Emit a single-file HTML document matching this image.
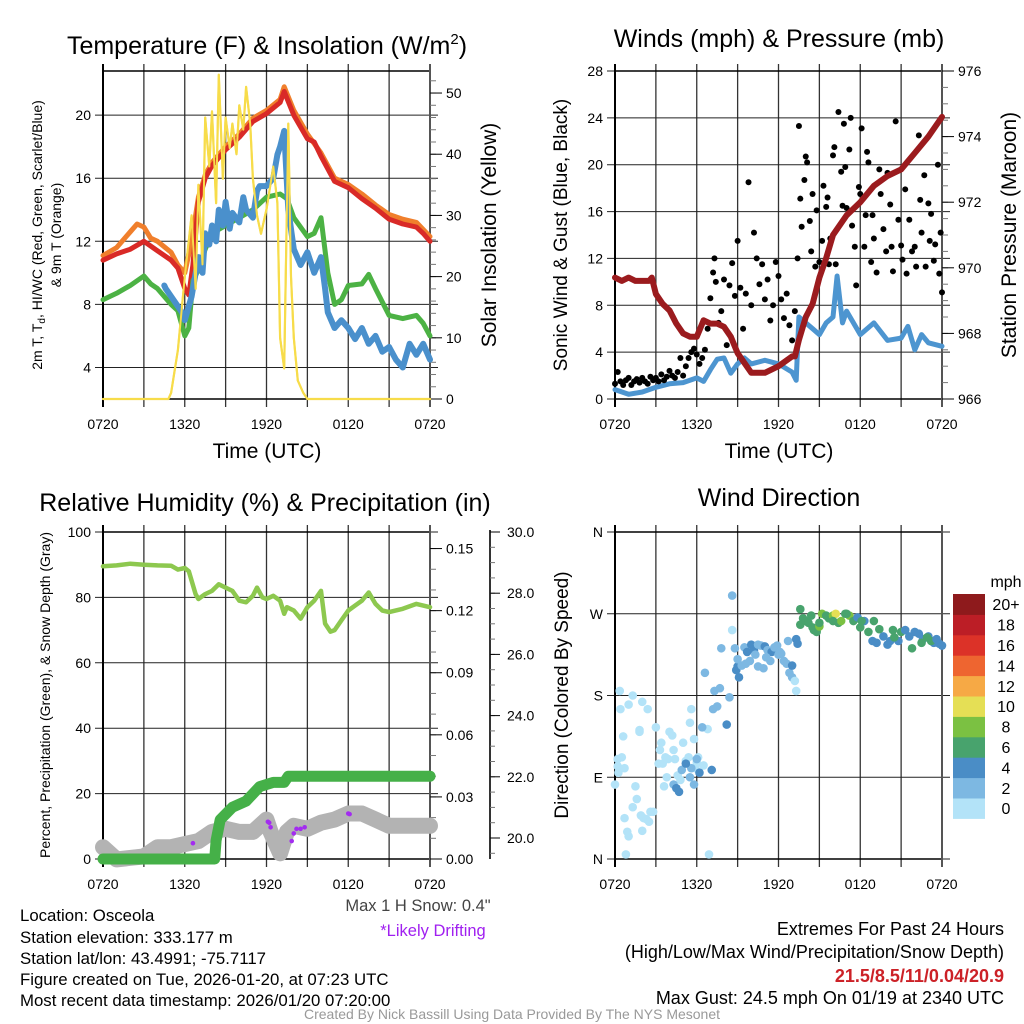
<!DOCTYPE html>
<html><head><meta charset="utf-8"><style>
html,body{margin:0;padding:0;background:#fff;width:1024px;height:1024px;overflow:hidden}
svg{display:block;font-family:"Liberation Sans",sans-serif}
</style></head><body>
<svg id="fig" width="1024" height="1024" viewBox="0 0 1024 1024">
<rect x="0" y="0" width="1024" height="1024" fill="#fff"/>
<text x="267" y="54" font-size="25" text-anchor="middle">Temperature (F) &amp; Insolation (W/m<tspan font-size="15" dy="-10">2</tspan><tspan dy="10">)</tspan></text>
<text x="779" y="47" font-size="25" text-anchor="middle">Winds (mph) &amp; Pressure (mb)</text>
<text x="265" y="511" font-size="25" text-anchor="middle">Relative Humidity (%) &amp; Precipitation (in)</text>
<text x="779" y="506" font-size="25" text-anchor="middle">Wind Direction</text>
<text x="267" y="458" font-size="21" text-anchor="middle">Time (UTC)</text>
<text x="779" y="458" font-size="21" text-anchor="middle">Time (UTC)</text>
<g transform="translate(42,235) rotate(-90)"><text x="0" y="0" font-size="14" text-anchor="middle">2m T, T<tspan font-size="10" dy="3">d</tspan><tspan dy="-3">, HI/WC (Red, Green, Scarlet/Blue)</tspan></text></g>
<text transform="translate(61,235) rotate(-90)" font-size="14" text-anchor="middle">&amp; 9m T (Orange)</text>
<text transform="translate(496,235) rotate(-90)" font-size="21" text-anchor="middle">Solar Insolation (Yellow)</text>
<text transform="translate(567,235) rotate(-90)" font-size="19" text-anchor="middle">Sonic Wind &amp; Gust (Blue, Black)</text>
<text transform="translate(1016,235) rotate(-90)" font-size="21" text-anchor="middle">Station Pressure (Maroon)</text>
<text transform="translate(50,695) rotate(-90)" font-size="14" text-anchor="middle">Percent, Precipitation (Green), &amp; Snow Depth (Gray)</text>
<text transform="translate(568,695) rotate(-90)" font-size="19" text-anchor="middle">Direction (Colored By Speed)</text>
<text x="418" y="911" font-size="16.5" fill="#444" text-anchor="middle">Max 1 H Snow: 0.4"</text>
<text x="433" y="936" font-size="16.5" fill="#a020f0" text-anchor="middle">*Likely Drifting</text>
<g font-size="16.8">
<text x="20" y="921">Location: Osceola</text>
<text x="20" y="943">Station elevation: 333.177 m</text>
<text x="20" y="964">Station lat/lon: 43.4991; -75.7117</text>
<text x="20" y="985">Figure created on Tue, 2026-01-20, at 07:23 UTC</text>
<text x="20" y="1006">Most recent data timestamp: 2026/01/20 07:20:00</text>
</g>
<g font-size="18" text-anchor="end">
<text x="1004" y="935">Extremes For Past 24 Hours</text>
<text x="1004" y="958">(High/Low/Max Wind/Precipitation/Snow Depth)</text>
<text x="1004" y="982" fill="#cc2127" font-weight="bold">21.5/8.5/11/0.04/20.9</text>
<text x="1004" y="1004">Max Gust: 24.5 mph On 01/19 at 2340 UTC</text>
</g>
<text x="512" y="1019" font-size="14" fill="#999" text-anchor="middle">Created By Nick Bassill Using Data Provided By The NYS Mesonet</text>
<text x="1006" y="587" font-size="16" text-anchor="middle">mph</text>
<g id="layer"></g>
</svg>
<script>
// ---- Temperature panel data (hours since 0720 UTC) ----
const tT=[0,1,2,3,4,5,5.5,6,6.3,6.6,7,7.5,8,9,10,11,12,13,13.3,14,15,15.5,16,17,18,19,20,21,22,23,23.5,24];
const tempVals=[10.8,11.2,11.5,12.0,11.4,10.8,10.3,9.0,8.6,10.5,14.5,16.0,16.8,17.8,18.6,19.6,20.1,20.8,21.5,20.0,18.5,18.3,17.4,15.8,15.4,14.7,14.1,13.4,13.1,12.9,12.5,12.0];
const t9Times=[0,1,2,2.5,3,3.5,4,5,5.5,6,6.5,7,7.5,8,9,10,11,12,13,13.3,14,15,16,17,18,19,20,21,22,23,24];
const temp9Vals=[11.1,11.6,12.6,13.1,12.9,12.2,12.0,11.3,10.5,10.0,12.0,14.8,16.2,17.0,18.0,18.8,19.8,20.3,21.0,21.8,20.3,18.8,17.6,16.0,15.6,15.0,14.3,13.7,13.4,13.2,12.3];
const tdTimes=[0,1,2,3,3.5,4,5,5.5,6,6.3,6.6,7,7.5,8,9,10,11,12,13,13.5,14,15,15.5,16,16.5,17,17.5,18,19,19.5,20,21,22,23,23.5,24];
const tdVals=[8.3,8.7,9.2,9.8,9.3,9.0,8.0,7.6,6.0,6.5,9.5,10.2,11.5,12.5,13.0,13.5,14.0,14.8,15.0,14.7,13.5,12.3,12.5,13.5,10.0,8.0,8.3,9.2,9.3,9.9,9.0,7.3,7.1,7.3,6.8,6.0];
const wcTimes=[4.5,4.6,5.8,6,6.5,7,7.3,7.5,7.8,8,8.3,8.5,8.8,9,9.3,9.5,10,10.3,10.5,11,11.3,11.5,12,12.5,12.8,13,13.3,13.6,14,14.5,15,15.5,16,16.3,16.5,17,17.5,18,18.5,19,19.5,20,20.5,21,21.5,22,22.5,23,23.5,24];
const wcVals=[9.2,9.0,7.5,7.0,8.5,11.0,10.0,12.5,11.8,13.0,12.0,14.0,13.0,14.5,12.8,13.8,13.2,14.8,14.0,13.5,15.2,15.5,15.5,16.0,17.5,18.0,19.0,14.0,11.5,10.5,11.3,10.0,11.0,9.0,7.5,6.5,7.0,6.5,5.8,6.5,5.5,6.0,5.0,5.3,4.5,4.0,5.5,4.8,5.5,4.5];
const solTimes=[0,4.8,5,5.5,6,6.5,6.8,7,7.3,7.5,7.8,8,8.3,8.5,8.8,9,9.3,9.5,9.8,10,10.3,10.5,10.8,11,11.3,11.6,12,12.5,12.8,13,13.3,13.6,13.8,14,14.3,14.7,15,24];
const solVals=[0,0,1,8,20,30,18,35,22,46,38,47,32,53,36,46,41,45,40,48,44,51,45,36,30,27,31,38,32,10,5,45,20,10,3,1,0,0];
const tempTicks=[4,8,12,16,20];
const solTicks=[0,10,20,30,40,50];
// ---- Winds panel ----
const windTimes=[0,1,2,3,4,5,6,6.5,7,7.5,8,8.5,9,9.5,10,11,12,13,13.3,13.5,14,14.5,15,15.5,16,16.3,16.7,17,18,19,20,21,21.5,22,22.5,23,24];
const windVals=[0.8,0.4,0.6,1.0,1.3,1.4,1.8,1.5,2.5,3.4,3.5,2.2,3.0,3.5,3.0,3.3,3.0,2.3,1.6,7.0,6.5,6.0,5.5,6.5,7.0,10.5,6.5,7.5,5.5,6.5,5.0,5.2,6.2,4.2,5.5,4.8,4.5];
const gustTimes=[0,0.2,0.4,0.6,0.8,1,1.2,1.4,1.6,1.8,2,2.2,2.4,2.6,2.8,3,3.2,3.4,3.6,3.8,4,4.2,4.4,4.6,4.8,5,5.2,5.4,5.6,5.8,6,6.2,6.4,6.6,6.8,7,7.2,7.3,7.4,7.6,7.8,8,8.2,8.4,8.6,8.8,9,9.2,9.4,9.6,9.8,10,10.2,10.4,10.6,10.8,11,11.2,11.4,11.6,11.8,12,12.2,12.4,12.6,12.8,13,13.2,13.4,13.5,13.6,13.7,13.9,14,14.1,14.3,14.4,14.5,14.7,14.8,15,15.2,15.3,15.5,15.6,15.7,15.8,16,16.1,16.2,16.4,16.6,16.7,16.8,16.9,17,17.2,17.3,17.4,17.6,17.7,17.9,18,18.1,18.3,18.4,18.5,18.6,18.8,18.9,19,19.2,19.4,19.5,19.7,19.9,20,20.2,20.3,20.4,20.6,20.8,21,21.1,21.3,21.4,21.6,21.8,22,22.1,22.3,22.4,22.5,22.7,22.8,23,23.1,23.2,23.4,23.5,23.7,23.8,23.9,24];
const gustVals=[1.3,2.3,1.5,1.2,1.6,1.8,1.2,1.5,1.7,1.4,1.8,1.5,1.3,1.9,1.6,1.8,1.5,2.1,1.6,1.9,2.4,2.0,1.8,2.3,3.5,2.0,2.8,3.5,4.0,4.3,3.8,3.0,3.5,4.2,6.0,8.6,10.8,12.0,10.0,6.5,7.5,10.2,4.6,9.7,11.6,8.8,13.5,9.5,6.0,9.0,18.5,8.0,14.2,12.0,9.8,11.5,8.5,10.2,6.7,8.0,11.7,10.5,8.5,6.9,9.0,6.3,5.0,7.5,12.0,23.3,17.1,14.7,18.7,20.7,20.2,15.2,12.6,17.5,11.3,16.1,11.7,13.5,18.2,16.4,17.2,11.5,13.7,20.8,21.5,11.5,24.5,19.4,16.5,23.5,19.8,16.3,21.3,24.0,14.8,13.0,9.7,18.1,17.5,23.1,13.0,15.7,21.1,20.2,11.7,15.7,13.7,10.8,19.6,17.5,14.5,12.6,19.3,16.6,13.0,10.9,23.7,15.3,13.1,11.9,17.9,10.7,15.3,12.6,13.0,11.3,22.5,17.0,14.2,19.1,11.3,16.7,13.5,15.8,11.8,13.2,20.0,10.7,14.2,9.1];
const presTimes=[0,0.5,1,1.5,2.5,2.7,3,3.5,4,4.5,5,5.5,6,6.5,7,7.5,8,8.5,9,10,10.5,11,12,13,13.2,13.5,14,14.5,15,15.5,16,17,18,19,20,21,22,23,24];
const presVals=[969.7,969.6,969.7,969.6,969.6,969.7,969.2,968.9,968.7,968.3,968.0,967.9,967.9,968.4,968.3,968.3,968.2,967.9,967.4,966.8,966.8,966.8,967.0,967.3,967.3,967.8,968.5,968.9,969.7,970.3,971.0,971.6,972.0,972.5,972.8,973.0,973.5,974.0,974.6];
const windTicks=[0,4,8,12,16,20,24,28];
const presTicks=[966,968,970,972,974,976];
// ---- Humidity panel ----
const rhTimes=[0,1,2,3,4,5,5.5,6,6.3,6.8,7,7.5,8,8.5,9,9.5,10,10.5,11,11.3,11.7,12,12.5,13,13.3,13.5,14,14.5,15,15.5,16,16.3,16.7,17,17.5,18,18.5,19,19.5,20,20.5,21,22,23,24];
const rhVals=[89.5,89.8,90.3,90.0,89.8,89.7,88.5,89.0,88.0,81.0,79.5,81.0,82.0,84.0,83.0,82.0,79.0,78.5,80.5,83.0,80.0,79.5,80.5,79.0,75.0,77.0,76.0,73.5,77.0,79.0,82.0,72.0,69.5,70.0,73.0,76.0,77.5,79.0,81.5,78.0,76.0,75.5,76.5,78.0,77.0];
const precipTimes=[0,8.2,8.3,8.6,9.5,10.5,11.5,12.5,13.3,13.6,24];
const precipVals=[0,0,0.009,0.019,0.025,0.028,0.035,0.037,0.037,0.040,0.040];
const snowTimes=[0,1,3,4,5,6,7,8,9,10,11,12,12.3,13,13.5,14,15,16,17,18,19,20,21,22,24];
const snowVals=[19.7,19.3,19.4,19.7,19.7,19.8,19.9,20.2,20.3,20.2,20.2,20.6,20.2,19.5,20.2,20.4,20.3,20.5,20.6,20.8,20.8,20.6,20.4,20.4,20.4];
const driftTimes=[6.6,12.1,12.2,12.3,13.85,14.0,14.2,14.5,14.8,18.0,18.1];
const driftVals=[19.83,20.53,20.5,20.35,19.9,20.15,20.3,20.3,20.35,20.8,20.78];
const rhTicks=[0,20,40,60,80,100];
const precipTicks=[0,0.03,0.06,0.09,0.12,0.15];
const snowTicks=[20,22,24,26,28,30];
// ---- Wind direction panel ----
const dirTimes=[0.0,0.2,0.25,0.4,0.35,0.2,0.5,0.6,0.7,0.7,0.8,0.9,1.0,1.0,1.3,1.3,1.5,1.6,1.8,1.8,1.9,2.0,2.0,2.1,2.3,2.4,2.5,2.6,2.8,3.0,3.2,3.3,3.4,3.5,3.6,3.7,3.8,3.9,4.0,4.2,4.3,4.4,4.6,4.8,5.0,5.2,5.4,5.5,5.6,5.8,5.9,6.0,6.1,6.5,6.8,6.9,4.9,4.3,5.5,5.8,6.4,6.0,5.6,4.7,5.2,6.2,4.5,7.1,6.6,7.3,7.2,7.5,7.7,8.2,7.8,8.8,8.4,9.1,8.9,9.0,9.0,9.3,9.5,9.7,10.0,10.2,10.5,10.7,11.0,11.2,11.5,11.7,11.9,12.0,12.2,12.4,12.6,12.8,13.0,13.2,13.3,13.0,12.7,13.3,13.4,8.6,8.6,10.5,10.9,9.9,11.1,10.3,9.6,11.4,12.1,13.6,13.8,14.0,14.2,14.4,14.5,14.6,14.8,15.0,15.2,15.5,15.7,16.0,16.2,16.4,16.6,16.9,17.2,17.5,17.8,18.0,18.3,18.6,18.9,19.2,19.4,19.7,20.0,20.2,20.4,20.8,21.0,21.3,21.6,22.0,22.3,22.6,23.0,23.4,23.8,24.0,13.6,15.0,16.0,20.5,21.8,22.5,23.2,19.0,18.1,17.0,23.6,22.9];
const dirVals=[82,110,95,165,185,102,112,135,100,45,5,30,25,170,180,57,80,66,142,140,48,173,31,45,44,165,41,52,52,145,105,120,128,105,80,112,90,110,140,136,120,110,92,87,128,108,112,150,165,132,100,106,112,103,143,5,98,82,90,82,145,110,100,74,105,95,78,98,205,185,165,168,188,148,232,232,178,200,208,212,220,213,233,228,236,230,236,235,234,230,228,233,235,225,226,218,215,205,200,196,185,213,240,242,237,290,252,212,210,218,222,225,215,218,228,258,265,262,260,268,255,252,250,256,270,268,265,268,270,260,262,270,268,262,266,255,262,250,240,238,253,245,236,240,252,240,250,252,245,250,248,242,245,238,237,235,275,260,262,244,232,238,240,262,262,270,242,244];
const dirSpeeds=[1,1,1,1,1,1,1,1,1,1,1,1,1,1,1,1,1,1,1,1,1,1,1,1,1,1,1,1,1,1,1,1,1,1,1,1,1,1,1,1,1,1,1,1,1,1,1,1,1,1,1,1,1,1,1,1,3,3,3,3,3,3,3,5,5,5,5,5,3,3,3,3,3,5,3,3,3,5,5,5,3,3,3,5,5,5,3,3,5,3,5,3,3,3,3,3,3,3,3,1,1,5,3,5,5,3,1,3,3,3,3,3,3,3,3,7,7,7,7,7,7,7,7,9,9,7,7,9,11,7,9,7,9,7,5,7,5,7,5,5,7,5,5,5,7,5,7,5,5,5,5,5,5,5,5,5,7,7,7,7,7,7,7,7,7,7,5,7];
const speedBins=[0,2,4,6,8,10,12,14,16,18,20];
const binLabels=["0","2","4","6","8","10","12","14","16","18","20+"];
const binColors=["#b3e3f8","#7db8e2","#4a8dc6","#48a36d","#7bc142","#e5df55","#f6a945","#ee6530","#dc3228","#bc1e26","#8e1a1c"];
const dirTicks=[0,90,180,270,360];
const dirLabels=["N","E","S","W","N"];
const timeLabels=["0720","1320","1920","0120","0720"];
const timeTickHours=[0,6,12,18,24];

const NS="http://www.w3.org/2000/svg";
const layer=document.getElementById("layer");
function mk(tag,attrs,parent){const e=document.createElementNS(NS,tag);for(const k in attrs)e.setAttribute(k,attrs[k]);(parent||layer).appendChild(e);return e;}
function lin(d0,d1,r0,r1){return v=>r0+(v-d0)*(r1-r0)/(d1-d0);}
function pathD(xs,ys,sx,sy){return xs.map((t,i)=>(i?"L":"M")+sx(t).toFixed(1)+" "+sy(ys[i]).toFixed(1)).join(" ");}

const panels={
 tl:{x0:103,x1:430,y0:71,y1:399},
 tr:{x0:615,x1:942,y0:71,y1:399},
 bl:{x0:103,x1:430,y0:532,y1:859},
 br:{x0:615,x1:942,y0:532,y1:859}
};
function frame(p,key,hTicks,sy,labels,labelFmt){
 const g=mk("g",{});
 
 
 const sx=lin(0,24,p.x0,p.x1);
 for(let h=3;h<24;h+=3){const l=mk("line",{x1:sx(h),x2:sx(h),y1:p.y0-7,y2:p.y1+8,stroke:"#333","stroke-width":1.3},g);
  
  }
 hTicks.forEach((v,i)=>{const y=sy(v);const l=mk("line",{x1:p.x0-8,x2:p.x1+8,y1:y,y2:y,stroke:"#222","stroke-width":1},g);
  
  
  const t=mk("text",{x:p.x0-12,y:y+5,"font-size":14,"text-anchor":"end"},g);t.textContent=labels?labels[i]:labelFmt(v);
  
  });
 mk("rect",{x:p.x0,y:p.y0,width:p.x1-p.x0,height:p.y1-p.y0,fill:"none",stroke:"#000","stroke-width":1.5},g);
 mk("line",{x1:p.x0,x2:p.x0,y1:p.y0-7,y2:p.y1+8,stroke:"#000","stroke-width":2},g);
 mk("line",{x1:p.x1,x2:p.x1,y1:p.y0-7,y2:p.y1+8,stroke:"#555","stroke-width":2},g);
 timeTickHours.forEach((h,i)=>{const t=mk("text",{x:sx(h),y:p.y1+30,"font-size":14,"text-anchor":"middle"},g);t.textContent=timeLabels[i];
  
  });
 return sx;
}
function rightAxis(p,ticks,sy,fmt,x,minorStep,lo,hi){
 const g=mk("g",{});
 
 
 if(minorStep){for(let v=lo;v<=hi+1e-9;v+=minorStep){const y=sy(v);if(y<p.y0-1||y>p.y1+1)continue;mk("line",{x1:x,x2:x+6,y1:y,y2:y,stroke:"#777","stroke-width":1},g);}}
 ticks.forEach(v=>{const y=sy(v);mk("line",{x1:x,x2:x+12,y1:y,y2:y,stroke:"#000","stroke-width":1},g);
  const t=mk("text",{x:x+16,y:y+5,"font-size":14},g);t.textContent=fmt(v);
  
  });
}
function line(xs,ys,sx,sy,color,w){const e=mk("path",{d:pathD(xs,ys,sx,sy),fill:"none",stroke:color,"stroke-width":w,"stroke-linejoin":"round","stroke-linecap":"round"});
 return e;}

// ---- TL ----
{const p=panels.tl;const sy=lin(2,22.8,p.y1,p.y0);const sr=lin(0,53.6,p.y1,p.y0);
 const sx=frame(p,'temperature',tempTicks,sy,null,v=>String(v));
 rightAxis(p,solTicks,sr,v=>String(v),p.x1,2,0,52);
 const y=line(solTimes,solVals,sx,sr,"#f7dc4a",2.2);
 
 
 const o=line(t9Times,temp9Vals,sx,sy,"#f07f2c",5);
 
 
 const r=line(tT,tempVals,sx,sy,"#d92a27",5);
 
 
 const gr=line(tdTimes,tdVals,sx,sy,"#4cb244",5);
 
 
 const b=line(wcTimes,wcVals,sx,sy,"#4a90cc",6);
 
 
 const y2=line(solTimes,solVals,sx,sr,"#f7dc4a",2);
 
 
}
// ---- TR ----
{const p=panels.tr;const sy=lin(0,28,p.y1,p.y0);const sp=lin(966,976,p.y1,p.y0);
 const sx=frame(p,'winds',windTicks,sy,null,v=>String(v));
 rightAxis(p,presTicks,sp,v=>String(v),p.x1,0.5,966,976);
 const w=line(windTimes,windVals,sx,sy,"#4d95d0",5);
 
 
 gustTimes.forEach((t,i)=>{const c=mk("circle",{cx:sx(t),cy:sy(gustVals[i]),r:3,fill:"#000"});
  
  });
 const pr=line(presTimes,presVals,sx,sp,"#9b1b1e",6);
 
 
}
// ---- BL ----
{const p=panels.bl;const sy=lin(0,100,p.y1,p.y0);const spc=lin(0,0.158,p.y1,p.y0);const ssn=lin(20,30,838,532);
 const sx=frame(p,'humidity',rhTicks,sy,null,v=>String(v));
 rightAxis(p,precipTicks,spc,v=>v.toFixed(2),p.x1,0.01,0,0.15);
 const ax=mk("line",{x1:490,x2:490,y1:530,y2:859,stroke:"#333","stroke-width":2});
 
 
 for(let v=19.5;v<=30.01;v+=0.5){const yy=ssn(v);if(yy>859)continue;mk("line",{x1:490,x2:495,y1:yy,y2:yy,stroke:"#777"});}
 snowTicks.forEach(v=>{const yy=ssn(v);mk("line",{x1:490,x2:500,y1:yy,y2:yy,stroke:"#000"});
  const t=mk("text",{x:507,y:yy+5,"font-size":14});t.textContent=v.toFixed(1);
  
  });
 const s=line(snowTimes,snowVals,sx,ssn,"#b3b3b3",16);
 
 
 const pc=line(precipTimes,precipVals,sx,spc,"#45b048",11);
 
 
 driftTimes.forEach((t,i)=>{const c=mk("circle",{cx:sx(t),cy:ssn(driftVals[i]),r:2.3,fill:"#a32cf0"});
  
  });
 const rh=line(rhTimes,rhVals,sx,sy,"#8dc84f",4.5);
 
 
}
// ---- BR ----
{const p=panels.br;const sy=lin(0,360,p.y1,p.y0);
 const sx=frame(p,'direction',dirTicks,sy,dirLabels,null);
 dirTimes.forEach((t,i)=>{const s=dirSpeeds[i];let k=0;for(let j=0;j<speedBins.length;j++){if(s>=speedBins[j])k=j;}
  const c=mk("circle",{cx:sx(t),cy:sy(dirVals[i]),r:4.3,fill:binColors[k]});
  
  });
 const bh=20.4, top=594;
 binColors.forEach((c,i)=>{const yy=top+(binColors.length-1-i)*bh;
  const r=mk("rect",{x:953,y:yy,width:32,height:bh+0.5,fill:c});
  
  
  const t=mk("text",{x:1006,y:yy+bh/2+6,"font-size":16,"text-anchor":"middle"});t.textContent=binLabels[i];
  
  });
}
</script>
</body></html>
